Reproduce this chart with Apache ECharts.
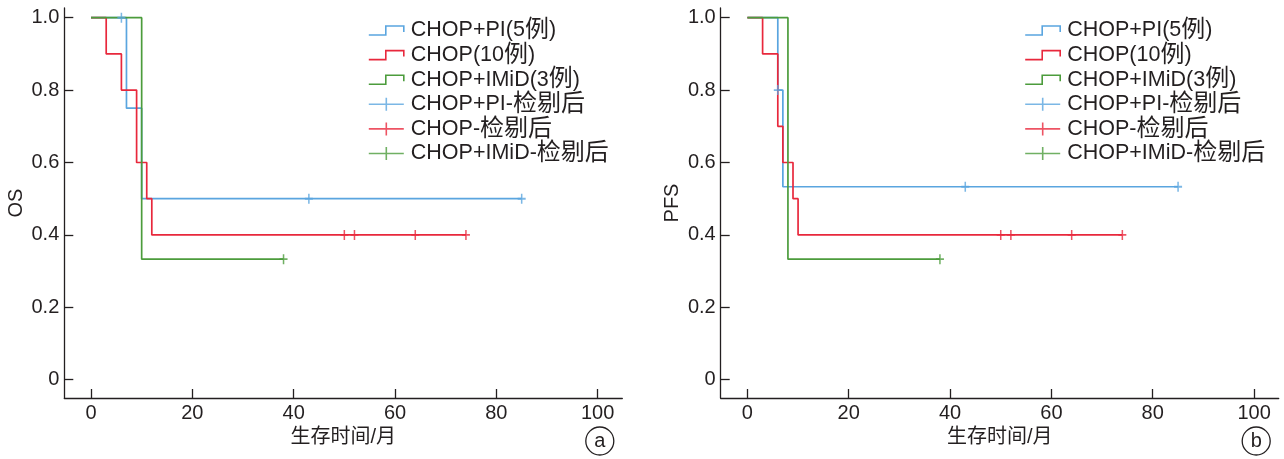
<!DOCTYPE html>
<html><head><meta charset="utf-8">
<script src="https://cdn.jsdelivr.net/npm/echarts@6/dist/echarts.min.js"></script>
<style>html,body{margin:0;padding:0;background:#fff}#c{width:1284px;height:459px}</style>
</head><body><div id="c"></div>
<script>
// ---- data ----
const seriesNames = ['CHOP+PI(5例)', 'CHOP(10例)', 'CHOP+IMiD(3例)', 'CHOP+PI-检剔后', 'CHOP-检剔后', 'CHOP+IMiD-检剔后'];
const xTicks = [0, 20, 40, 60, 80, 100];
const yTicks = [0, 0.2, 0.4, 0.6, 0.8, 1.0];
const yTickLabels = ['0', '0.2', '0.4', '0.6', '0.8', '1.0'];
const xAxisName = '生存时间/月';
const panelYNames = ['OS', 'PFS'];
const panelTags = ['a', 'b'];
// Panel a (OS): step points [month, survival]
const osPI = [[0, 1], [7, 0.75], [10, 0.5], [85, 0.5]];
const osCHOP = [[0, 1], [3, 0.9], [6, 0.8], [9, 0.6], [11, 0.5], [12, 0.4], [74, 0.4]];
const osIMiD = [[0, 1], [10, 0.333], [38, 0.333]];
const osPICens = [[6, 1], [43, 0.5], [85, 0.5]];
const osCHOPCens = [[50, 0.4], [52, 0.4], [64, 0.4], [74, 0.4]];
const osIMiDCens = [[38, 0.333]];
// Panel b (PFS)
const pfsPI = [[0, 1], [6, 0.8], [7, 0.533], [85, 0.533]];
const pfsCHOP = [[0, 1], [3, 0.9], [6, 0.7], [7, 0.6], [9, 0.5], [10, 0.4], [74, 0.4]];
const pfsIMiD = [[0, 1], [8, 0.333], [38, 0.333]];
const pfsPICens = [[6, 0.8], [43, 0.533], [85, 0.533]];
const pfsCHOPCens = [[50, 0.4], [52, 0.4], [64, 0.4], [74, 0.4]];
const pfsIMiDCens = [[38, 0.333]];

// ---- style ----
const colors = ['#5AA5DF', '#E8283C', '#4C9C3C'];
const ink = '#231f20';
const FONT = '"Liberation Sans", Arial, "Noto Sans CJK SC", sans-serif';
const FS = 20;
const LFS = 21.5;
const grids = [
  { left: 64.3, top: 8, width: 558, height: 390 },
  { left: 720.7, top: 8, width: 558, height: 390 }
];
const stepIcon = 'path://M0,9L17,9L17,0L35,0L35,6';
const censIcon = 'path://M0,6.5L35,6.5M17.5,0L17.5,13';
const censSymbol = 'path://M0,5L10,5M5,0L5,10';

// split a legend name into latin / CJK runs for rich text
function richName(n) {
  return n.replace(/([\u4e00-\u9fff]+)/g, '\u0000$1\u0001')
    .split(/(\u0000[^\u0001]*\u0001)/)
    .filter(s => s.length)
    .map(s => s[0] === '\u0000' ? '{c|' + s.slice(1, -1) + '}' : '{l|' + s + '}')
    .join('');
}

const panels = [
  { steps: [osPI, osCHOP, osIMiD], cens: [osPICens, osCHOPCens, osIMiDCens] },
  { steps: [pfsPI, pfsCHOP, pfsIMiD], cens: [pfsPICens, pfsCHOPCens, pfsIMiDCens] }
];

const xAxes = [], yAxes = [], series = [], legends = [], graphics = [];
panels.forEach((p, gi) => {
  xAxes.push({
    gridIndex: gi, type: 'value', min: -5.27, max: 104.86,
    axisLine: { onZero: false, lineStyle: { color: ink, width: 1.3 } },
    axisTick: { inside: true, length: 9, customValues: xTicks, lineStyle: { color: ink, width: 1.3 } },
    axisLabel: { customValues: xTicks, fontSize: FS, color: ink, fontFamily: FONT, margin: 5 },
    splitLine: { show: false },
    name: xAxisName, nameLocation: 'middle', nameGap: 28,
    nameTextStyle: { fontSize: FS, color: ink, fontFamily: FONT }
  });
  yAxes.push({
    gridIndex: gi, type: 'value', min: -0.0506, max: 1.0268,
    axisLine: { show: true, onZero: false, lineStyle: { color: ink, width: 1.3 } },
    axisTick: { show: true, inside: true, length: 9, customValues: yTicks, lineStyle: { color: ink, width: 1.3 } },
    axisLabel: { customValues: yTicks, fontSize: FS, color: ink, fontFamily: FONT, margin: 5,
      formatter: v => yTickLabels[Math.round(v * 5)] },
    splitLine: { show: false },
    name: panelYNames[gi], nameLocation: 'middle', nameGap: 38,
    nameTextStyle: { fontSize: FS, color: ink, fontFamily: FONT }
  });
  p.steps.forEach((d, i) => {
    series.push({
      name: seriesNames[i], type: 'line', step: 'end', xAxisIndex: gi, yAxisIndex: gi,
      data: d, symbol: 'none', showSymbol: false, color: colors[i],
      lineStyle: { color: colors[i], width: 1.7 }, animation: false, z: 2
    });
  });
  p.cens.forEach((d, i) => {
    series.push({
      name: seriesNames[i + 3], type: 'scatter', xAxisIndex: gi, yAxisIndex: gi,
      data: d, symbol: censSymbol, symbolSize: [8, 10], color: colors[i],
      itemStyle: { color: 'none', borderColor: colors[i], borderWidth: 1.7 },
      animation: false, z: 3
    });
  });
  legends.push({
    orient: 'vertical', left: grids[gi].left + 302, top: 18.5, padding: 0,
    itemWidth: 35, itemHeight: 13, itemGap: 0.6, selectedMode: false,
    formatter: n => richName(n),
    textStyle: {
      fontSize: LFS, color: ink, fontFamily: FONT, lineHeight: 22, padding: [0, 0, 0, 2],
      rich: {
        l: { fontSize: LFS, color: ink, fontFamily: FONT, lineHeight: 22 },
        c: { fontSize: 24, color: ink, fontFamily: FONT, lineHeight: 22 }
      }
    },
    data: seriesNames.map((n, k) => ({
      name: n, icon: k < 3 ? stepIcon : censIcon,
      itemStyle: { color: 'none', borderColor: colors[k % 3], borderWidth: 1.6 }
    }))
  });
  const cx = grids[gi].left + 535.5;
  graphics.push(
    { type: 'circle', shape: { cx: cx, cy: 441, r: 14 }, style: { fill: 'none', stroke: ink, lineWidth: 1.3 } },
    { type: 'text', x: cx, y: 441, style: { text: panelTags[gi], fill: ink, font: FS + 'px ' + FONT, align: 'center', verticalAlign: 'middle' } }
  );
});

const chart = echarts.init(document.getElementById('c'), null, { renderer: 'canvas' });
chart.setOption({
  backgroundColor: '#fff',
  animation: false,
  grid: grids,
  xAxis: xAxes,
  yAxis: yAxes,
  legend: legends,
  series: series,
  graphic: graphics
});
</script>
</body></html>
